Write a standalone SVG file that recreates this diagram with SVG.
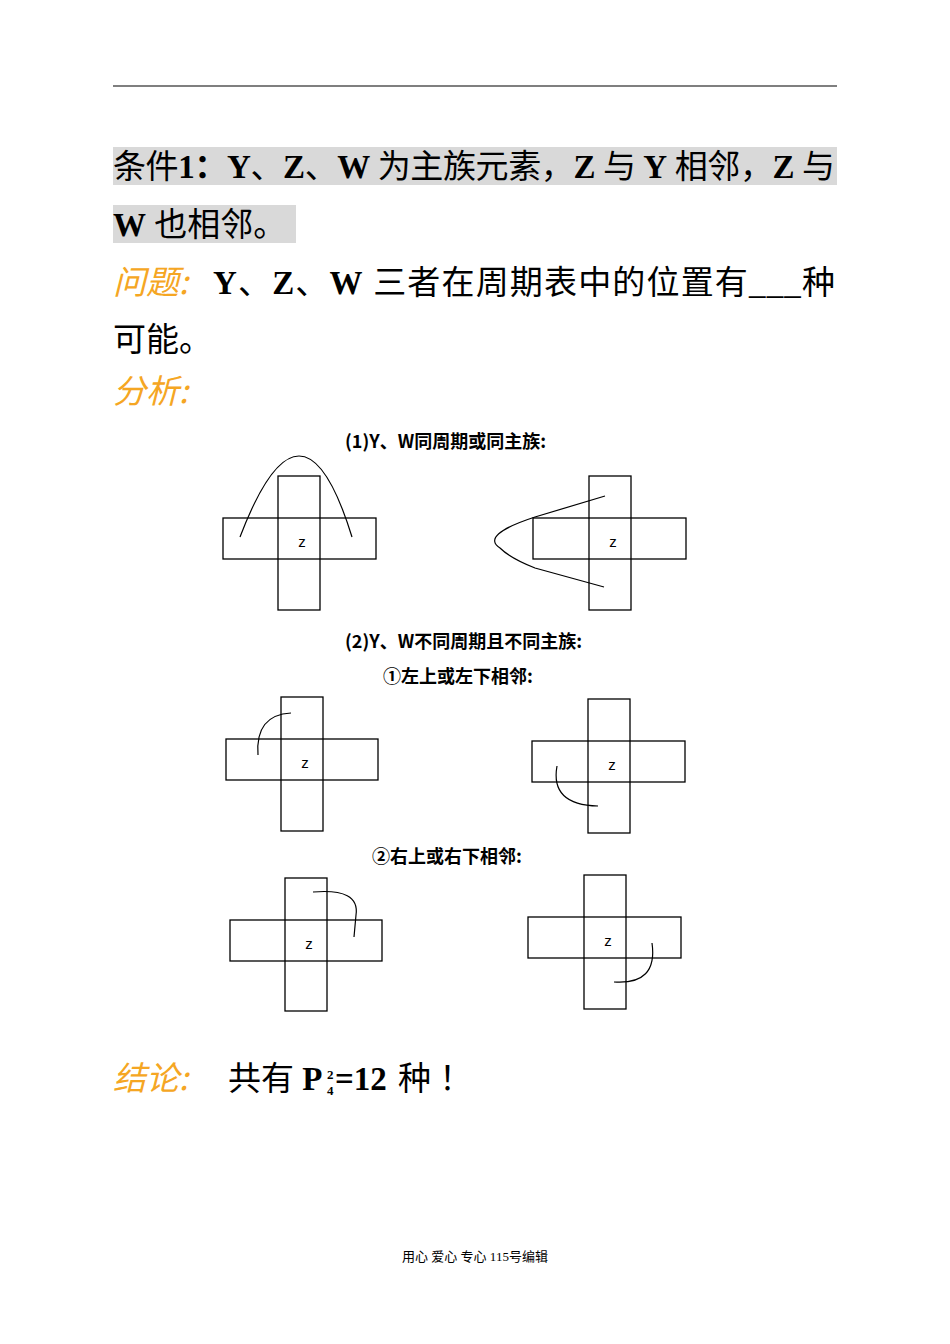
<svg xmlns="http://www.w3.org/2000/svg" width="950" height="1344" viewBox="0 0 950 1344">
<style>
.t{font-family:"Liberation Serif","Noto Sans CJK SC",serif;font-size:33px;fill:#000}
.b{font-weight:bold}
.s{font-size:13px}
.o{font-family:"Noto Sans CJK SC",sans-serif;font-style:italic;font-size:33px;fill:#f5a623}
.h{font-family:"Noto Sans CJK SC",sans-serif;font-weight:bold;font-size:18px;fill:#000}
.c{fill:none;stroke:#000;stroke-width:1.3}
.z{font-family:"Liberation Sans",sans-serif;font-size:15px;fill:#000;text-anchor:middle}
.k{fill:none;stroke:#000;stroke-width:1.2}
</style>
<rect width="950" height="1344" fill="#fff"/>
<line x1="113" y1="86" x2="837" y2="86" stroke="#000" stroke-width="1.2"/>
<rect x="113" y="147" width="724" height="38" fill="#d9d9d9"/>
<rect x="113" y="205" width="183" height="38" fill="#d9d9d9"/>
<text class="t" x="113" y="178" textLength="722" lengthAdjust="spacing">条件<tspan class="b">1：Y</tspan>、<tspan class="b">Z</tspan>、<tspan class="b">W</tspan> 为主族元素，<tspan class="b">Z</tspan> 与 <tspan class="b">Y</tspan> 相邻，<tspan class="b">Z</tspan> 与</text>
<text class="t" x="113" y="236"><tspan class="b">W</tspan> 也相邻。</text>
<text class="o" x="113" y="294">问题:</text>
<text class="t" x="213" y="294" textLength="622" lengthAdjust="spacing"><tspan class="b">Y</tspan>、<tspan class="b">Z</tspan>、<tspan class="b">W</tspan> 三者在周期表中的位置有___种</text>
<text class="t" x="113" y="351">可能。</text>
<text class="o" x="113" y="403">分析:</text>
<text class="h" x="345" y="448">(1)Y、W同周期或同主族:</text>
<g id="cross1"><rect class="c" x="223" y="518" width="153" height="41"/><rect class="c" x="278" y="476" width="42" height="134"/><text class="z" x="302" y="547">z</text></g>
<g id="cross2"><rect class="c" x="533" y="518" width="153" height="41"/><rect class="c" x="589" y="476" width="42" height="134"/><text class="z" x="613" y="547">z</text></g>
<text class="h" x="345" y="648">(2)Y、W不同周期且不同主族:</text>
<text class="h" x="383" y="683">①左上或左下相邻:</text>
<g id="cross3"><rect class="c" x="226" y="739" width="152" height="41"/><rect class="c" x="281" y="697" width="42" height="134"/><text class="z" x="305" y="768">z</text></g>
<g id="cross4"><rect class="c" x="532" y="741" width="153" height="41"/><rect class="c" x="588" y="699" width="42" height="134"/><text class="z" x="612" y="770">z</text></g>
<text class="h" x="372" y="863">②右上或右下相邻:</text>
<g id="cross5"><rect class="c" x="230" y="920" width="152" height="41"/><rect class="c" x="285" y="878" width="42" height="133"/><text class="z" x="309" y="949">z</text></g>
<g id="cross6"><rect class="c" x="528" y="917" width="153" height="41"/><rect class="c" x="584" y="875" width="42" height="134"/><text class="z" x="608" y="946">z</text></g>
<g id="connectors">
<path class="k" d="M605,496 L535,517 Q480,535 500,548 Q510,558 535,568 L604,587"/>
<path class="k" d="M240,537 Q302,375 352,537"/>
<path class="k" d="M258,755 Q255,715 291,713"/>
<path class="k" d="M557,766 Q550,805 598,806"/>
<path class="k" d="M313,892 Q360,888 356,915 L354,937"/>
<path class="k" d="M652,943 Q658,985 614,982"/>
</g>
<text class="o" x="113" y="1090">结论:</text>
<text class="t" x="228" y="1090">共有 <tspan class="b">P</tspan></text>
<text class="t b s" x="327" y="1079">2</text>
<text class="t b s" x="327" y="1095">4</text>
<text class="t b" x="335" y="1090">=12</text><text class="t" x="398" y="1090">种 ！</text>
<text x="475" y="1261" font-family="Liberation Serif,Noto Sans CJK SC,serif" font-size="13" text-anchor="middle">用心 爱心 专心  115号编辑</text>
</svg>
